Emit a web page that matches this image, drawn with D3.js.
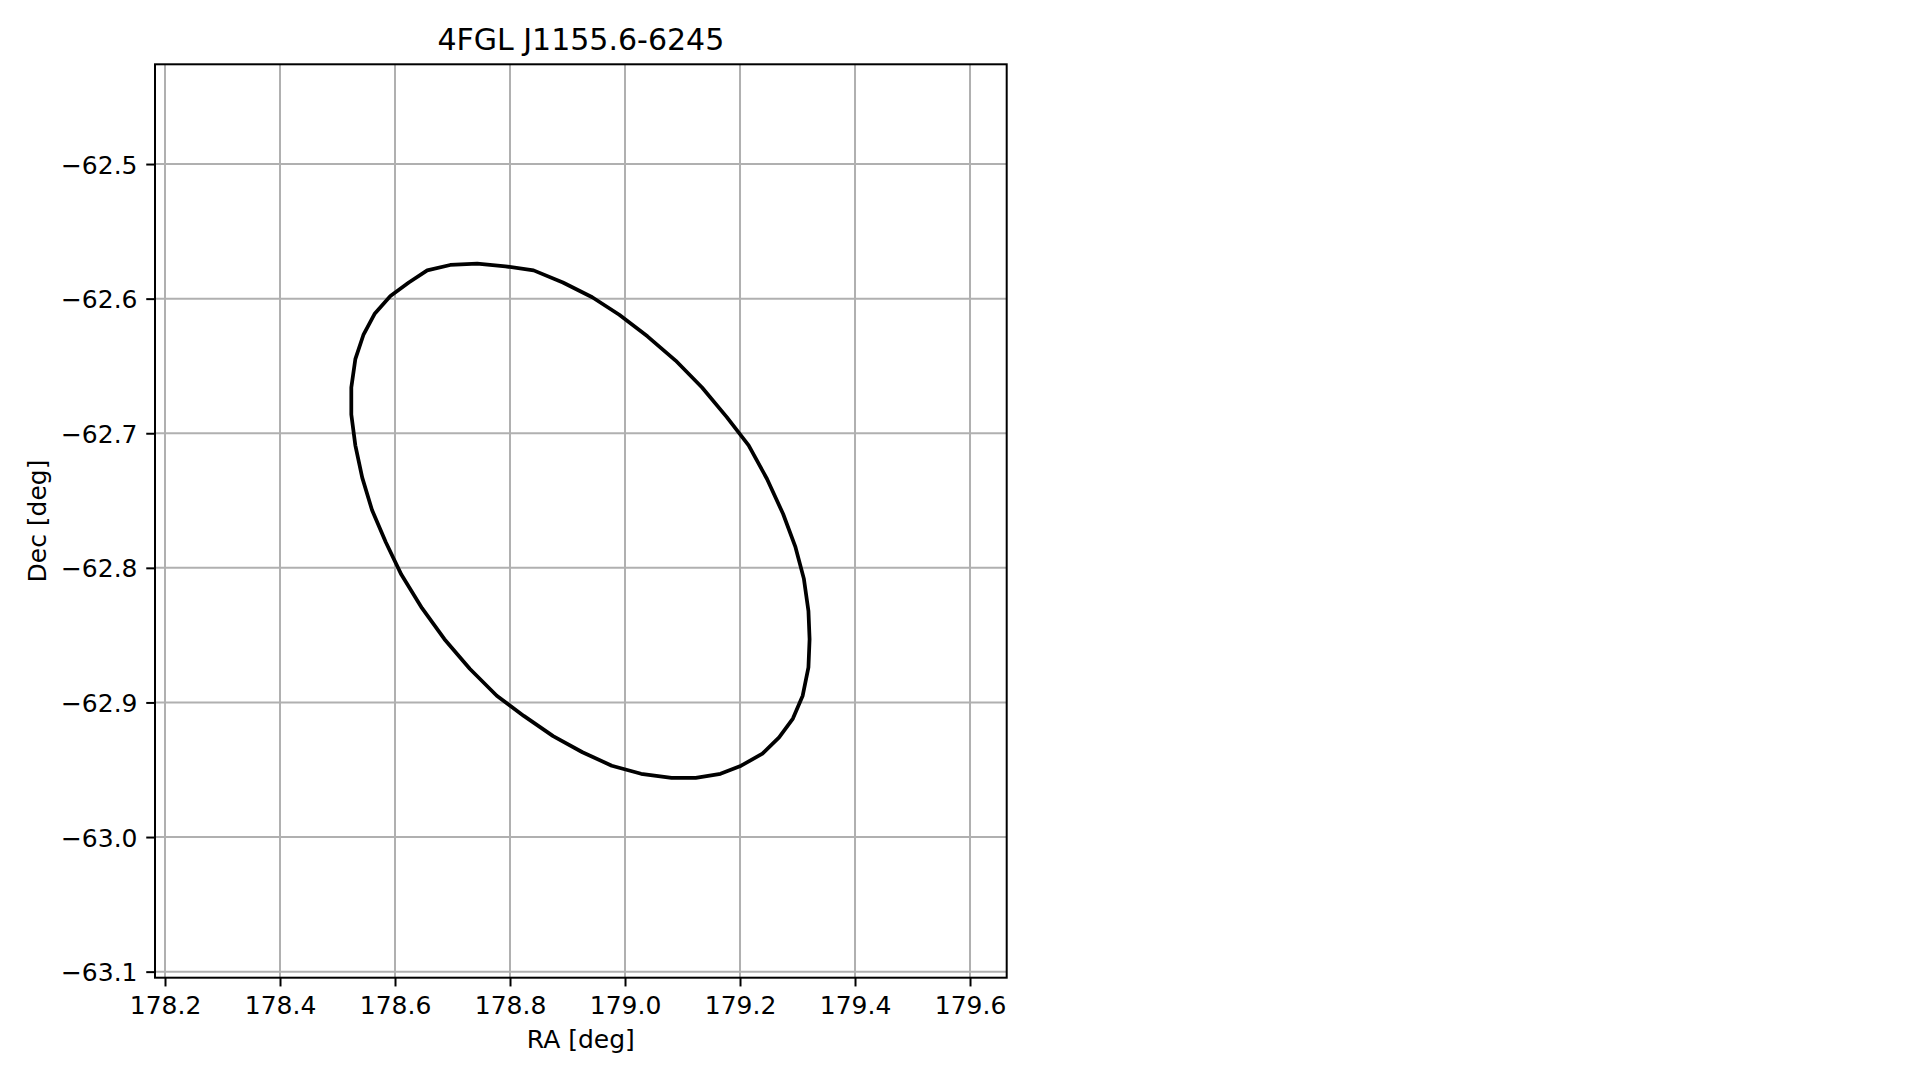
<!DOCTYPE html>
<html>
<head>
<meta charset="utf-8">
<script src="https://cdn.jsdelivr.net/npm/d3@7"></script>
<style>
  html, body { margin: 0; padding: 0; background: #fff; }
  svg { display: block; }
  text { font-family: "DejaVu Sans", sans-serif; fill: #000; }
</style>
</head>
<body>
<svg id="chart" width="1919" height="1080"></svg>
<script>
// ---- data ----
const title = "4FGL J1155.6-6245";
const xLabel = "RA [deg]";
const yLabel = "Dec [deg]";
const xTicks = [178.2, 178.4, 178.6, 178.8, 179.0, 179.2, 179.4, 179.6];
const yTicks = [-62.5, -62.6, -62.7, -62.8, -62.9, -63.0, -63.1];
const xDomain = [178.1826, 179.6638];
const yDomain = [-63.1045, -62.4259];

// ellipse contour vertices (RA, Dec)
const ellipseRA = [
  178.743, 178.696, 178.656, 178.624, 178.592, 178.565, 178.545, 178.531, 178.524, 178.524,
  178.531, 178.543, 178.560, 178.584, 178.611, 178.647, 178.686, 178.730, 178.777, 178.824,
  178.875, 178.926, 178.977, 179.028, 179.081, 179.123, 179.166, 179.202, 179.239, 179.268,
  179.292, 179.309, 179.319, 179.321, 179.319, 179.311, 179.296, 179.275, 179.247, 179.215,
  179.177, 179.134, 179.088, 179.039, 178.990, 178.943, 178.892, 178.841, 178.792
];
const ellipseDec = [
  -62.574, -62.575, -62.579, -62.588, -62.598, -62.611, -62.627, -62.645, -62.666, -62.686,
  -62.709, -62.733, -62.757, -62.781, -62.805, -62.830, -62.853, -62.875, -62.895, -62.910,
  -62.925, -62.937, -62.947, -62.953, -62.956, -62.956, -62.953, -62.947, -62.938, -62.926,
  -62.912, -62.895, -62.874, -62.853, -62.832, -62.808, -62.784, -62.760, -62.734, -62.709,
  -62.688, -62.666, -62.646, -62.628, -62.612, -62.599, -62.588, -62.579, -62.576
];

// ---- layout ----
const L = 155, R = 1006.7, T = 64.3, B = 977.7;
const svg = d3.select("#chart");

const x = d3.scaleLinear().domain(xDomain).range([L, R]);
const y = d3.scaleLinear().domain(yDomain).range([B, T]);

const fmt = d => d.toFixed(1).replace("-", "\u2212");

// grid
const grid = svg.append("g").attr("stroke", "#b0b0b0").attr("stroke-width", 2);
grid.selectAll("line.gx").data(xTicks).enter().append("line")
  .attr("x1", d => x(d)).attr("x2", d => x(d)).attr("y1", T).attr("y2", B);
grid.selectAll("line.gy").data(yTicks).enter().append("line")
  .attr("y1", d => y(d)).attr("y2", d => y(d)).attr("x1", L).attr("x2", R);

// ellipse
const pts = ellipseRA.map((ra, i) => [ra, ellipseDec[i]]);
const line = d3.line().x(d => x(d[0])).y(d => y(d[1]));
svg.append("path")
  .attr("d", line(pts) + "Z")
  .attr("fill", "none")
  .attr("stroke", "#000")
  .attr("stroke-width", 3.75)
  .attr("stroke-linejoin", "round");

// axes
const xAxis = d3.axisBottom(x).tickValues(xTicks).tickFormat(fmt).tickSizeOuter(0).tickSizeInner(8.75).tickPadding(8.75);
const yAxis = d3.axisLeft(y).tickValues(yTicks).tickFormat(fmt).tickSizeOuter(0).tickSizeInner(8.75).tickPadding(8.75);

const gx = svg.append("g").attr("transform", `translate(0,${B})`).call(xAxis);
const gy = svg.append("g").attr("transform", `translate(${L},0)`).call(yAxis);
[gx, gy].forEach(g => {
  g.select(".domain").remove();
  g.selectAll(".tick line").attr("stroke", "#000").attr("stroke-width", 2);
  g.selectAll(".tick text").attr("font-size", 25).attr("font-family", "DejaVu Sans").attr("fill", "#000");
});
gx.selectAll(".tick text").attr("dy", null).attr("y", null).attr("dominant-baseline", "auto")
  .attr("transform", "translate(0,36.5)");
gy.selectAll(".tick text").attr("dy", "0.36em");

// spines
svg.append("rect")
  .attr("x", L).attr("y", T).attr("width", R - L).attr("height", B - T)
  .attr("fill", "none").attr("stroke", "#000").attr("stroke-width", 2);

// title and labels
svg.append("text").attr("x", (L + R) / 2).attr("y", 49.5)
  .attr("text-anchor", "middle").attr("font-size", 30).text(title);
svg.append("text").attr("x", (L + R) / 2).attr("y", 1048)
  .attr("text-anchor", "middle").attr("font-size", 25).text(xLabel);
svg.append("text").attr("transform", `translate(46,${(T + B) / 2}) rotate(-90)`)
  .attr("text-anchor", "middle").attr("font-size", 25).text(yLabel);
</script>
</body>
</html>
